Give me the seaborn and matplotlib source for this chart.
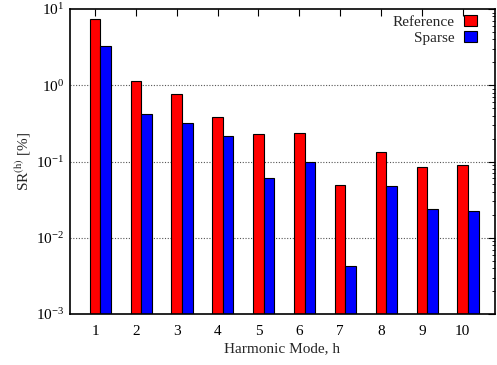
import numpy as np
import pandas as pd
import matplotlib
matplotlib.use("Agg")
import matplotlib.pyplot as plt
import seaborn as sns
from matplotlib.ticker import LogLocator

# Harmonic modes and the spectral ratio per mode, in percent
harmonics = ["1", "2", "3", "4", "5", "6", "7", "8", "9", "10"]
reference = [7.46, 1.13, 0.767, 0.384, 0.227, 0.237, 0.0492, 0.132, 0.0848, 0.0908]
sparse = [3.27, 0.424, 0.323, 0.214, 0.0608, 0.0975, 0.00427, 0.0478, 0.0236, 0.0227]
series_names = ["Reference", "Sparse"]
series_colors = ["#ff0000", "#0000ff"]

df = pd.DataFrame({
    "h": harmonics * 2,
    "SR": reference + sparse,
    "method": [series_names[0]] * len(harmonics) + [series_names[1]] * len(harmonics),
})

sns.set_theme(style="white")
plt.rcParams["font.family"] = ["Liberation Serif", "DejaVu Serif"]
plt.rcParams["mathtext.fontset"] = "stix"

fig = plt.figure(figsize=(4.97, 3.65), dpi=100)
ax = fig.add_axes([0.1408, 0.1397, 0.996 - 0.1408, 0.9753 - 0.1397])

group_width = 0.515
sns.barplot(data=df, x="h", y="SR", hue="method", order=harmonics,
            hue_order=series_names, palette=series_colors, width=group_width,
            gap=0, edgecolor="black", linewidth=0.8, saturation=1,
            log_scale=True, ax=ax, legend=True)

ax.set_yscale("log")
ax.set_ylim(1e-3, 1e1)
ax.yaxis.set_major_locator(LogLocator(base=10, numticks=10))
ax.yaxis.set_minor_locator(LogLocator(base=10, subs=np.arange(2, 10), numticks=20))

# tick marks sit under the first bar of each group
offset = group_width / 4
positions = np.arange(len(harmonics)) - offset
ax.set_xticks(positions)
ax.set_xticklabels(harmonics)
ax.set_xlim(positions[0] - 0.613, positions[-1] + 0.79)

ax.tick_params(axis="both", which="both", direction="in", top=True, right=True,
               labelsize=11, colors="black")
ax.tick_params(axis="both", which="major", length=5, width=0.8)
ax.tick_params(axis="y", which="minor", length=2.5, width=0.6)
ax.tick_params(axis="x", which="both", bottom=False)
ax.tick_params(axis="x", pad=8)
ax.tick_params(axis="y", pad=4)

ax.set_axisbelow(True)
ax.grid(False)
for v in [1e0, 1e-1, 1e-2]:
    ax.axhline(v, color="#555555", lw=0.8, ls=(0, (1, 1.5)), zorder=0)

for s in ax.spines.values():
    s.set_color("black")
    s.set_linewidth(1.2)

ax.set_xlabel("Harmonic Mode, h", fontsize=11, labelpad=3)
ax.set_ylabel("SR$^{\\mathrm{(h)}}$ [%]", fontsize=11, labelpad=2)

handles, labels = ax.get_legend_handles_labels()
ax.legend(handles, labels, loc="upper right", bbox_to_anchor=(0.975, 1.005),
          markerfirst=False, frameon=False,
          fontsize=11, handlelength=0.85, handleheight=0.75, handletextpad=0.6,
          labelspacing=0.1, borderaxespad=0.1)

fig.savefig("out.png", dpi=100)
